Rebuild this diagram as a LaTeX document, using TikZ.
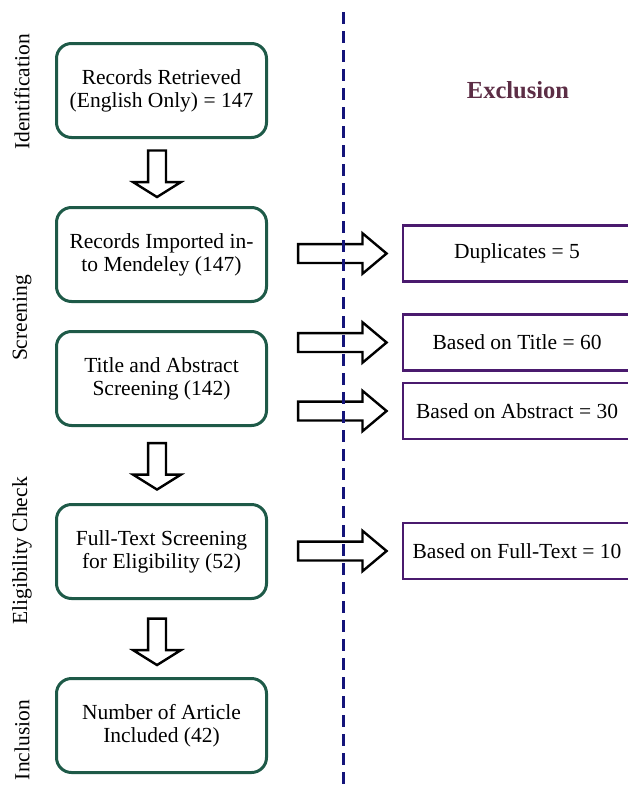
\documentclass[tikz,border=0pt]{standalone}
\usepackage{fontspec}
\setmainfont{Liberation Serif}
\usetikzlibrary{positioning,shapes.arrows,calc}
\definecolor{stagegreen}{HTML}{1E5A48}
\definecolor{exclpurple}{HTML}{4A1A6E}
\definecolor{dashblue}{HTML}{14147A}
\definecolor{titlered}{HTML}{5C2D45}
\newcommand{\boxfont}{\fontsize{21.5}{23}\selectfont}
\begin{document}
\begin{tikzpicture}[x=1pt,y=-1pt,
    stage/.style={draw=stagegreen, line width=3pt, rounded corners=15pt,
        minimum width=210pt, minimum height=94pt, align=center, font=\boxfont},
    exclbox/.style={draw=exclpurple, line width=2.6pt,
        minimum width=228pt, minimum height=56pt, font=\boxfont},
    downarrow/.style={single arrow, draw, line width=2.4pt, rotate=-90,
        inner xsep=0pt, inner ysep=7.75pt, text height=0pt, text depth=0pt,
        minimum height=46.5pt, minimum width=45.5pt,
        single arrow head extend=15pt, single arrow tip angle=116},
    rightarrow/.style={single arrow, draw, line width=2.4pt,
        inner xsep=0pt, inner ysep=8.25pt, text height=0pt, text depth=0pt,
        minimum height=88.5pt, minimum width=38pt,
        single arrow head extend=10.75pt, single arrow tip angle=80},
    phase/.style={rotate=90, font=\boxfont}]
    \clip (0,0) rectangle (628,787);

    % stages on the left
    \node[stage] (retrieved) at (161.5,90.5) {Records Retrieved\\(English Only) = 147};
    \node[stage, below=67pt of retrieved] (imported) {Records Imported in-\\to Mendeley (147)};
    \node[stage, below=27pt of imported] (abstract) {Title and Abstract\\Screening (142)};
    \node[stage, below=76pt of abstract] (fulltext) {Full-Text Screening\\for Eligibility (52)};
    \node[stage, below=77pt of fulltext] (included) {Number of Article\\Included (42)};

    % phase names
    \node[phase] (identification) at (22,92) {Identification};
    \node[phase] (screening) at (22,318) {Screening};
    \node[phase] (eligibility) at (22,551) {Eligibility Check};
    \node[phase] (inclusion) at (22,740) {Inclusion};

    % exclusions on the right
    \node[text=titlered, font=\bfseries\fontsize{24.5}{28}\selectfont] (exclusion) at (518,90) {Exclusion};
    \node[exclbox] (duplicates) at (517,253.5) {Duplicates = 5};
    \node[exclbox] (bytitle) at (517,342.5) {Based on Title = 60};
    \node[exclbox] (byabstract) at (517,411) {Based on Abstract = 30};
    \node[exclbox] (byfulltext) at (517,551) {Based on Full-Text = 10};

    % block arrows
    \node[downarrow] (down1) at ($(retrieved.south)!0.5!(imported.north)+(-4.5,-1.5)$) {};
    \node[downarrow] (down2) at ($(abstract.south)!0.5!(fulltext.north)+(-4.5,-1.5)$) {};
    \node[downarrow] (down3) at ($(fulltext.south)!0.5!(included.north)+(-4.5,0.5)$) {};

    \node[rightarrow] (right1) at ($(duplicates.west)+(-65,0)$) {};
    \node[rightarrow] (right2) at ($(bytitle.west)+(-65,0)$) {};
    \node[rightarrow] (right3) at ($(byabstract.west)+(-65,0)$) {};
    \node[rightarrow] (right4) at ($(byfulltext.west)+(-65,0)$) {};

    \draw[dashblue, line width=3pt, dash pattern=on 12pt off 7pt] (343,12) -- (343,787);

\end{tikzpicture}
\end{document}
